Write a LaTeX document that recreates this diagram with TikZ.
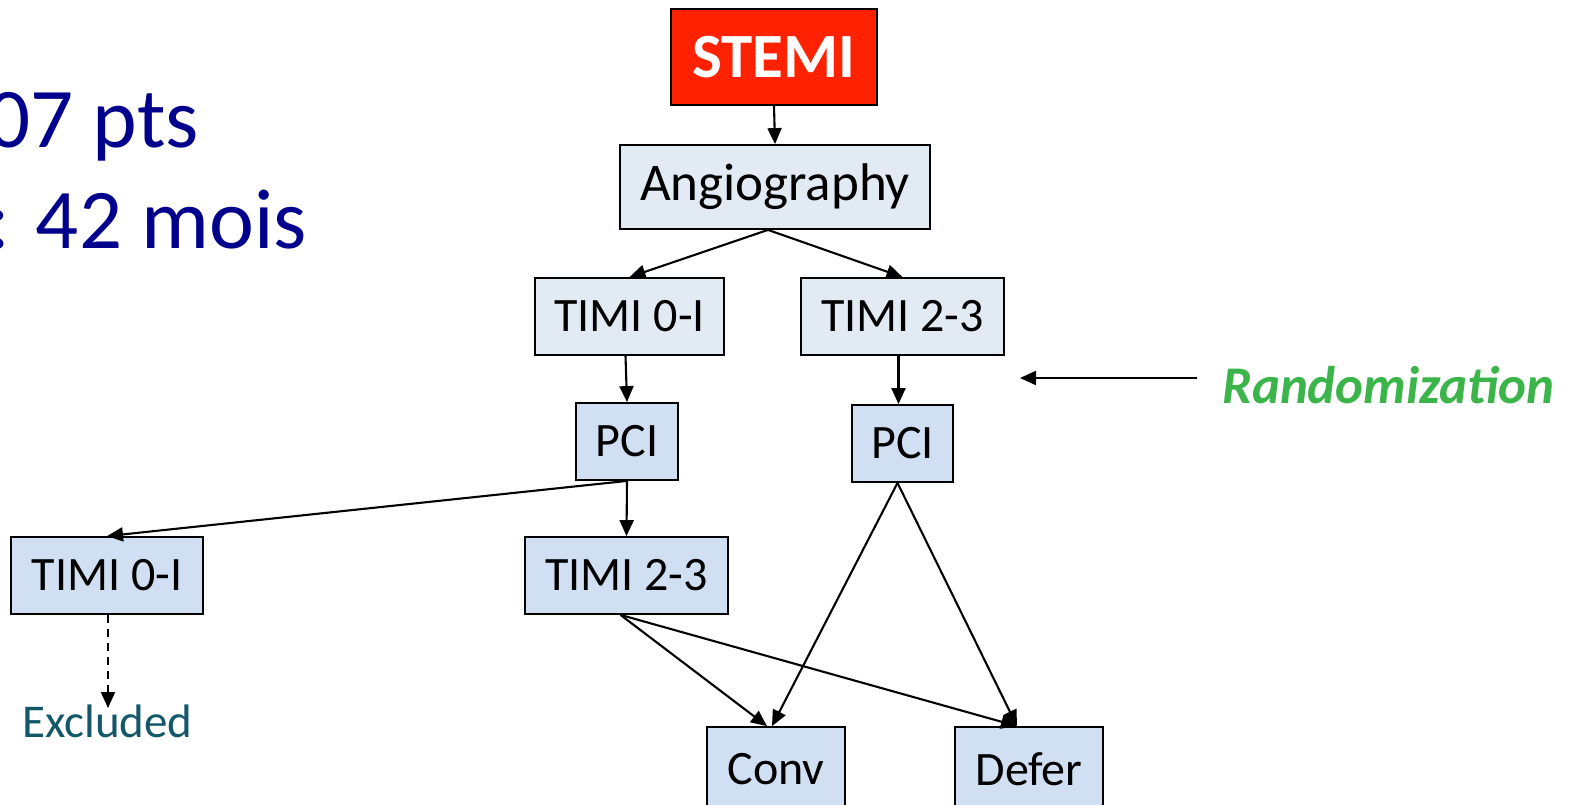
\documentclass[tikz,border=0pt]{standalone}
\usepackage{fontspec}
\setmainfont{Carlito}
\usetikzlibrary{arrows.meta}
\definecolor{stemired}{RGB}{255,34,0}
\definecolor{boxlight}{RGB}{226,234,244}
\definecolor{boxblue}{RGB}{208,224,242}
\definecolor{navytext}{RGB}{0,0,140}
\definecolor{randgreen}{RGB}{59,181,74}
\definecolor{exclteal}{RGB}{18,88,105}
\tikzset{
  box/.style={draw=black, line width=1.8pt, inner sep=0pt, font=\fontsize{48}{58}\selectfont},
  lightbox/.style={box, fill=boxlight},
  bluebox/.style={box, fill=boxblue},
  conn/.style={draw=black, line width=2.1pt, -{Triangle[length=16pt,width=14pt]}},
}
\begin{document}
\begin{tikzpicture}[x=1pt,y=-1pt]
\useasboundingbox (0,0) rectangle (1573,805);
\clip (0,0) rectangle (1573,805);
\fill[white] (0,0) rectangle (1573,805);

% left text (cut at the margin)
\node[anchor=base east, text=navytext, inner sep=0pt, font=\fontsize{85}{100}\selectfont] (pts) at (199,148) {07 pts};
\node[anchor=base east, text=navytext, inner sep=0pt, font=\fontsize{85}{100}\selectfont] (mois) at (307,248) {: 42 mois};

% boxes
\node[box, fill=stemired, text=white, minimum width=206pt, minimum height=96pt, font=\fontsize{63}{75}\selectfont\bfseries] (stemi) at (774,57) {STEMI};
\node[lightbox, minimum width=310pt, minimum height=84pt, font=\fontsize{53}{64}\selectfont] (angio) at (775,187) {Angiography};
\node[lightbox, minimum width=189pt, minimum height=77pt] (t01) at (629.5,316.5) {TIMI 0-I};
\node[lightbox, minimum width=203pt, minimum height=77pt] (t23) at (902.5,316.5) {TIMI 2-3};
\node[bluebox, minimum width=102pt, minimum height=77pt] (pci1) at (627,441.5) {PCI};
\node[bluebox, minimum width=101pt, minimum height=77pt] (pci2) at (902.5,443.5) {PCI};
\node[bluebox, minimum width=192pt, minimum height=77pt] (b01) at (107,575.5) {TIMI 0-I};
\node[bluebox, minimum width=203pt, minimum height=77pt] (b23) at (626.5,575.5) {TIMI 2-3};
\node[bluebox, minimum width=138pt, minimum height=84pt] (conv) at (776,769) {Conv};
\node[bluebox, minimum width=148pt, minimum height=84pt] (defer) at (1029,769) {Defer};

% labels
\node[anchor=base west, text=exclteal, inner sep=0pt, font=\fontsize{47}{56}\selectfont] (excl) at (22,737) {Excluded};
\node[anchor=base west, text=randgreen, inner sep=0pt, font=\fontsize{53}{64}\selectfont\bfseries\itshape] (rand) at (1222,403) {Randomization};
\coordinate (randstart) at (1197,378);
\coordinate (randend) at (1020,378);
\coordinate (exclend) at (108,708);

% connectors
\draw[conn] (stemi.south) -- (angio.north);
\draw[conn] ([xshift=-7pt]angio.south) -- (t01.north);
\draw[conn] ([xshift=-7pt]angio.south) -- (t23.north);
\draw[conn] ([xshift=-4pt]t01.south) -- (pci1.north);
\draw[conn] ([xshift=-4pt]t23.south) -- ([xshift=-4pt]pci2.north);
\draw[conn] (pci1.south) -- (b01.north);
\draw[conn] (pci1.south) -- (b23.north);
\draw[conn] ([xshift=-5pt]pci2.south) -- ([xshift=-4pt]conv.north);
\draw[conn] ([xshift=-5pt]pci2.south) -- ([xshift=-12pt]defer.north);
\draw[conn] ([xshift=-6pt]b23.south) -- ([xshift=-9pt]conv.north);
\draw[conn] ([xshift=-6pt]b23.south) -- ([xshift=-12pt]defer.north);
\draw[conn, dash pattern=on 8pt off 6pt] ([xshift=1pt]b01.south) -- (exclend);
\draw[conn] (randstart) -- (randend);
\end{tikzpicture}
\end{document}
